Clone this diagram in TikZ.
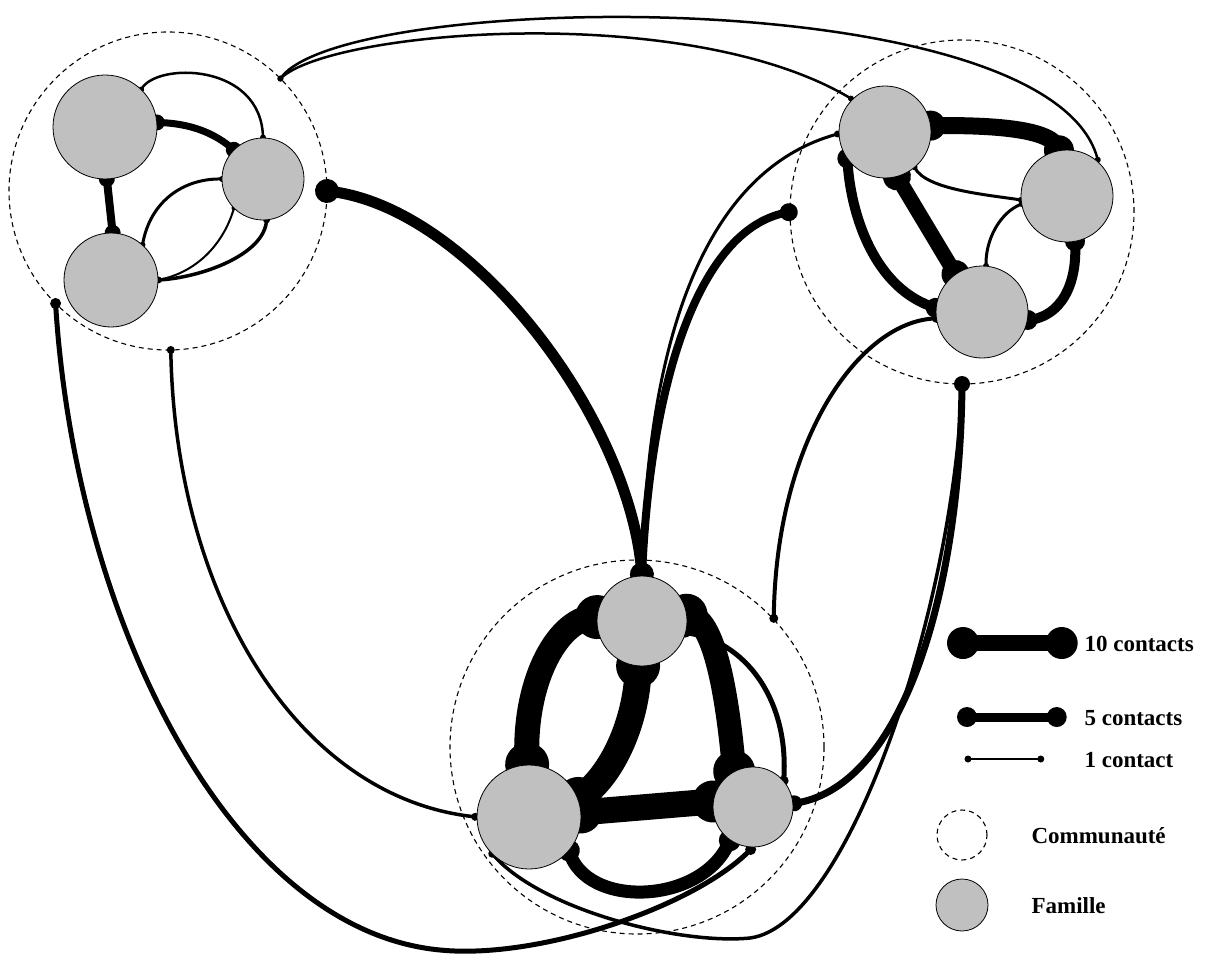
\documentclass[tikz,border=0pt]{standalone}
\usepackage{xcolor}
\usepackage{fontspec}
\setmainfont{Liberation Serif}
\usepackage{tikz}
\usetikzlibrary{decorations.markings}
\definecolor{famgray}{RGB}{192,192,192}
\pgfdeclarelayer{back}
\pgfsetlayers{back,main}

\begin{document}
\begin{tikzpicture}[x=1pt, y=-1pt, every node/.style={font=\fontsize{23}{27}\selectfont\bfseries}, fam/.style={circle, draw, line width=0.8pt, fill=famgray, inner sep=0pt, outer sep=0pt, minimum size=#1*2pt}, comm/.style={circle, draw, line width=1.1pt, dash pattern=on 5pt off 4pt, inner sep=0pt, outer sep=0pt, minimum size=#1*2pt}, lnk/.style 2 args={line width=#1pt, decoration={markings, mark=at position 0 with {\fill (0,0) circle (#2pt);}, mark=at position 0.997 with {\fill (0,0) circle (#2pt);}}, postaction=decorate}]
\useasboundingbox (0,0) rectangle (1206,960);
\node[comm=159] (A) at (168,191) {};
\node[comm=172] (B) at (962,212) {};
\node[comm=187] (C) at (637,747) {};
\node[fam=52] (A1) at (105,127) {};
\node[fam=41] (A2) at (263,179) {};
\node[fam=47] (A3) at (111,280) {};
\node[fam=46] (B1) at (885,132) {};
\node[fam=46] (B2) at (1067,196) {};
\node[fam=46] (B3) at (982,312) {};
\node[fam=45] (C1) at (642,621) {};
\node[fam=52] (C2) at (529,817) {};
\node[fam=40] (C3) at (753,807) {};
\begin{pgfonlayer}{back}
\draw[lnk={7}{8}] (A1.5) .. controls (190,123) and (215,133) .. (A2.135); \draw[lnk={8}{8}] (A1.-88) -- (A3.88);
\draw[lnk={2.5}{3}] (A1.46) .. controls (155,62) and (262,62) .. (A2.90);
\draw[lnk={3}{3}] (A2.180) .. controls (185,178) and (150,200) .. (A3.48);
\draw[lnk={3.5}{3.5}] (A2.-85) .. controls (265,255) and (200,278) .. (A3.0); \draw[lnk={2}{2.5}] (A2.225) .. controls (225,240) and (200,272) .. (A3.0);
\draw[lnk={17}{15}] (B1.8) .. controls (990,125) and (1055,128) .. (B2.100); \draw[lnk={15}{14}] (B1.-75) -- (B3.125);
\draw[lnk={10}{10}] (B1.215) .. controls (850,215) and (875,290) .. (B3.175);
\draw[lnk={3}{3}] (B1.-50) .. controls (925,190) and (990,195) .. (B2.185); \draw[lnk={3}{3}] (B2.190) .. controls (1000,212) and (985,240) .. (B3.85);
\draw[lnk={10}{10}] (B2.-80) .. controls (1078,285) and (1060,318) .. (B3.-10);
\draw[lnk={25}{22}] (C1.175) .. controls (560,615) and (522,680) .. (C2.92); \draw[lnk={24}{21}] (C1.8) .. controls (715,615) and (728,700) .. (C3.118);
\draw[lnk={27}{22}] (C1.-95) .. controls (638,715) and (615,775) .. (C2.20); \draw[lnk={26}{21}] (C2.5) -- (C3.172);
\draw[lnk={13}{11}] (C2.-40) .. controls (585,910) and (705,905) .. (C3.-125); \draw[lnk={5}{5}] (C1.-15) .. controls (745,640) and (790,700) .. (C3.40);
\draw[lnk={11}{12}] (A.0) .. controls (470,205) and (632,420) .. (C1.90);
\draw[lnk={8}{9}] (C1.90) .. controls (650,380) and (700,225) .. (B.180); \draw[lnk={3}{3.5}] (C1.90) .. controls (646,350) and (700,170) .. (B1.182);
\draw[lnk={4}{4.5}] (B3.188) .. controls (860,320) and (775,440) .. (C.43);
\draw[lnk={7}{8}] (B.270) .. controls (960,600) and (900,790) .. (C3.5);
\draw[lnk={3.5}{4}] (C2.225) .. controls (540,910) and (680,945) .. (750,938) .. controls (850,925) and (955,600) .. (B.270);
\draw[lnk={5}{5.5}] (A.225) .. controls (75,620) and (230,930) .. (440,950) .. controls (540,960) and (700,905) .. (C3.-90);
\draw[lnk={3.5}{4}] (A.-89) .. controls (175,600) and (300,800) .. (C2.180);
\draw[lnk={2.5}{3}] (A.45) .. controls (340,-10) and (1060,-20) .. (B2.47); \draw[lnk={2.5}{3}] (A.45) .. controls (330,30) and (690,0) .. (B1.135);
\end{pgfonlayer}
\coordinate (k10a) at (963,643); \coordinate (k10b) at (1062,643);
\coordinate (k5a) at (967,717); \coordinate (k5b) at (1057,717);
\coordinate (k1a) at (968,759); \coordinate (k1b) at (1041,759);
\draw[lnk={16}{16}] (k10a) -- (k10b); \draw[lnk={9}{10}] (k5a) -- (k5b); \draw[lnk={2.5}{3.5}] (k1a) -- (k1b);
\node[anchor=west] (t10) at (1081,644) {10 contacts};
\node[anchor=west] (t5) at (1081,718) {5 contacts};
\node[anchor=west] (t1) at (1081,760) {1 contact};
\node[comm=25] (kc) at (962,835) {};
\node[anchor=west] (tc) at (1028,836) {Communauté};
\node[fam=26] (kf) at (962,905) {};
\node[anchor=west] (tf) at (1028,906) {Famille};
\end{tikzpicture}
\end{document}
